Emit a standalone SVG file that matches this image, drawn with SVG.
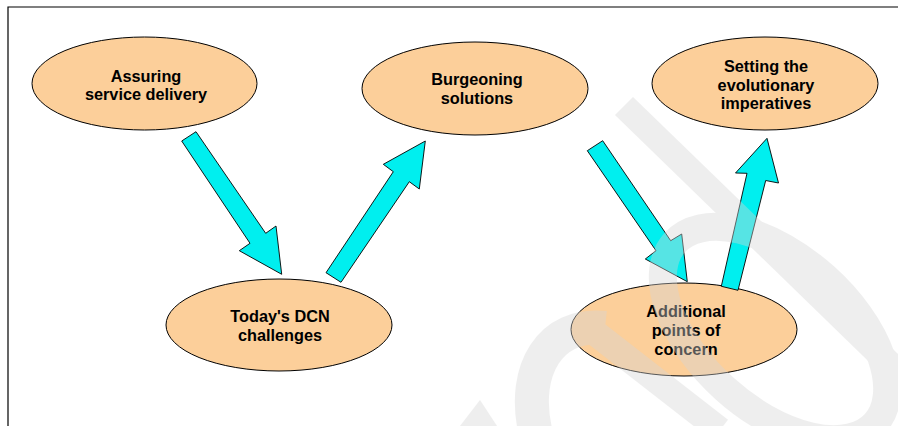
<svg xmlns="http://www.w3.org/2000/svg" width="898" height="426" viewBox="0 0 898 426">
  <style>
    .node ellipse { fill: #FCCF9A; stroke: #000; stroke-width: 1; }
    .node text { font-family: "Liberation Sans", Arial, Helvetica, sans-serif; font-weight: bold; font-size: 16.3px; fill: #000; text-anchor: middle; }
    .arrow { fill: #00EFEF; stroke: #000; stroke-width: 0.9; stroke-linejoin: miter; }
    .frame { stroke: #000; stroke-width: 1.2; fill: none; }
    .wm { fill: #d6d6d6; stroke: none; }
    .wms { fill: none; stroke: #d6d6d6; }
  </style>
  <rect x="0" y="0" width="898" height="426" fill="#fff"/>
  <path class="frame" d="M8,426 V7 H898"/>

  <g id="node-assuring" class="node">
    <ellipse cx="144.5" cy="83.5" rx="112.5" ry="46.5"/>
    <text x="146" y="81.7">Assuring</text>
    <text x="146" y="100.3">service delivery</text>
  </g>
  <g id="node-burgeoning" class="node">
    <ellipse cx="475" cy="88.5" rx="113" ry="46.5"/>
    <text x="477" y="85.3">Burgeoning</text>
    <text x="477" y="104">solutions</text>
  </g>
  <g id="node-setting" class="node">
    <ellipse cx="765" cy="83.5" rx="113" ry="46.5"/>
    <text x="766" y="71.7">Setting the</text>
    <text x="766" y="90.5">evolutionary</text>
    <text x="766" y="109.3">imperatives</text>
  </g>
  <g id="node-today" class="node">
    <ellipse cx="279" cy="325" rx="113" ry="46"/>
    <text x="280" y="322">Today's DCN</text>
    <text x="280" y="340.7">challenges</text>
  </g>
  <g id="node-additional" class="node">
    <ellipse cx="684" cy="329.5" rx="113" ry="46.5"/>
    <text x="686" y="317.3">Additional</text>
    <text x="686" y="336">points of</text>
    <text x="686" y="354.7">concern</text>
  </g>

  <g id="connectors">
    <polygon class="arrow" points="196,131.7 265.7,233.3 276,226 281.7,274.3 239.3,250.7 250,243.3 181.7,141"/>
    <polygon class="arrow" points="326,272.7 393.3,171.7 383.3,164.3 425.3,141 419.3,189 409.3,181.7 341,282.3"/>
    <polygon class="arrow" points="602.7,140.7 670.7,240.7 681.7,234 687.3,281.7 645.3,259 656,250.7 587.3,150.7"/>
    <polygon class="arrow" points="721.3,286.3 747,173.3 735.5,173 767,138.3 778.5,183 765.7,180.5 738,290.3"/>
  </g>

  <g id="watermark" opacity="0.4">
    <polygon class="wm" points="633,97 898,354 898,390 615,115"/>
    <ellipse class="wms" cx="775" cy="333" rx="135" ry="75" stroke-width="28" transform="rotate(42 775 333)"/>
    <path class="wms" stroke-width="34" d="M535,430 C522,370 550,322 605,328"/>
    <path class="wms" stroke-width="26" d="M585,325 L720,430"/>
    <polygon class="wm" points="460,426 480,400 497,426"/>
  </g>
</svg>
